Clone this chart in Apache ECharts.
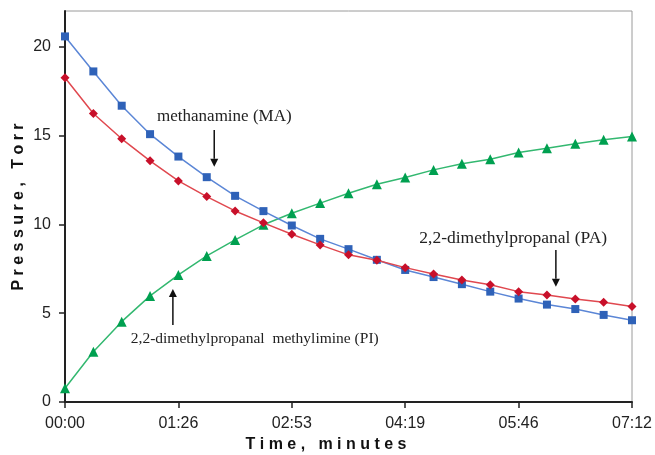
<!DOCTYPE html>
<html>
<head>
<meta charset="utf-8">
<script src="https://cdn.jsdelivr.net/npm/echarts@6/dist/echarts.min.js"></script>
<style>html,body{margin:0;padding:0;background:#fff;}#c{width:655px;height:455px;}</style>
</head>
<body>
<div id="c"></div>
<script>
// time in seconds
const times = [0, 21.6, 43.2, 64.8, 86.4, 108, 129.6, 151.2, 172.8, 194.4, 216, 237.6, 259.2, 280.8, 302.4, 324, 345.6, 367.2, 388.8, 410.4, 432];
const maValues = [20.57, 18.6, 16.67, 15.07, 13.81, 12.65, 11.6, 10.74, 9.93, 9.18, 8.6, 8.0, 7.43, 7.03, 6.63, 6.21, 5.82, 5.48, 5.23, 4.9, 4.6];
const paValues = [18.24, 16.23, 14.81, 13.57, 12.44, 11.56, 10.75, 10.08, 9.44, 8.84, 8.28, 7.98, 7.56, 7.2, 6.87, 6.6, 6.21, 6.02, 5.79, 5.61, 5.38];
const piValues = [0.77, 2.83, 4.52, 5.97, 7.15, 8.22, 9.12, 9.97, 10.62, 11.19, 11.75, 12.25, 12.63, 13.06, 13.4, 13.66, 14.04, 14.28, 14.53, 14.75, 14.94];
const xTickValues = [0, 86.4, 172.8, 259.2, 345.6, 432];
const xTickLabels = ['00:00', '01:26', '02:53', '04:19', '05:46', '07:12'];
const yTickValues = [0, 5, 10, 15, 20];

const chart = echarts.init(document.getElementById('c'), null, {renderer: 'canvas'});
const pair = vals => times.map((t, i) => [t, vals[i]]);
const lblFont = {fontFamily: 'Liberation Sans, Arial, sans-serif', fontSize: 16, color: '#222'};

chart.setOption({
  animation: false,
  backgroundColor: '#fff',
  grid: {left: 65, right: 23, top: 11, bottom: 53, containLabel: false, outerBoundsMode: 'none',
         show: true, borderColor: '#9a9a9a', borderWidth: 1, backgroundColor: 'transparent'},
  xAxis: {
    type: 'value', min: 0, max: 432,
    axisLine: {show: true, onZero: false, lineStyle: {color: '#222', width: 2}},
    axisTick: {show: true, inside: false, length: 6, lineStyle: {color: '#222', width: 1.5}, customValues: xTickValues},
    axisLabel: Object.assign({margin: 14, customValues: xTickValues,
      formatter: v => { const i = xTickValues.findIndex(t => Math.abs(t - v) < 0.01); return i >= 0 ? xTickLabels[i] : ''; }}, lblFont),
    splitLine: {show: false}
  },
  yAxis: {
    type: 'value', min: 0, max: 22,
    axisLine: {show: true, onZero: false, lineStyle: {color: '#222', width: 2}},
    axisTick: {show: true, inside: false, length: 6, lineStyle: {color: '#222', width: 1.5}, customValues: yTickValues},
    axisLabel: Object.assign({margin: 14, customValues: yTickValues}, lblFont),
    splitLine: {show: false}
  },
  series: [
    {name: 'MA', type: 'line', data: pair(maValues), symbol: 'rect', symbolSize: 8,
     lineStyle: {color: '#5b86d6', width: 1.5}, itemStyle: {color: '#2f62b8'}, z: 3},
    {name: 'PA', type: 'line', data: pair(paValues), symbol: 'diamond', symbolSize: 9,
     lineStyle: {color: '#e0484f', width: 1.5}, itemStyle: {color: '#c8102a'}, z: 4},
    {name: 'PI', type: 'line', data: pair(piValues), symbol: 'triangle', symbolSize: 10,
     lineStyle: {color: '#33b870', width: 1.5}, itemStyle: {color: '#00a050'}, z: 2}
  ]
});

// annotations in data coordinates
const notes = [
  {text: 'methanamine (MA)', size: 17, at: [121.4, 16.05], align: 'center', arrow: [[113.7, 15.3], [113.7, 13.24]]},
  {text: '2,2-dimethylpropanal (PA)', size: 17.5, at: [341.5, 9.21], align: 'center', arrow: [[374, 8.55], [374, 6.49]]},
  {text: '2,2-dimethylpropanal  methylimine (PI)', size: 15.5, at: [50.1, 3.55], align: 'left', arrow: [[82.2, 4.33], [82.2, 6.36]]}
];
const px = p => chart.convertToPixel({gridIndex: 0}, p);
const graphics = [];
notes.forEach(n => {
  const p = px(n.at);
  graphics.push({type: 'text', x: p[0], y: p[1], z: 10,
    style: {text: n.text, font: n.size + 'px "Liberation Serif", "Times New Roman", serif', fill: '#222', align: n.align, verticalAlign: 'middle'}});
  const a = px(n.arrow[0]), b = px(n.arrow[1]);
  const dir = b[1] > a[1] ? 1 : -1;
  const hl = 8, hw = 4;
  graphics.push({type: 'line', z: 10, shape: {x1: a[0], y1: a[1], x2: b[0], y2: b[1] - dir * hl}, style: {stroke: '#111', lineWidth: 1.5}});
  graphics.push({type: 'polygon', z: 10, shape: {points: [[b[0], b[1]], [b[0] - hw, b[1] - dir * hl], [b[0] + hw, b[1] - dir * hl]]}, style: {fill: '#111'}});
});
graphics.push({type: 'text', x: 326, y: 445, z: 10,
  style: {text: 'T i m e ,   m i n u t e s', font: 'bold 16px "Liberation Sans", Arial, sans-serif', fill: '#111', align: 'center', verticalAlign: 'middle'}});
graphics.push({type: 'text', x: 19, y: 207, rotation: Math.PI / 2, z: 10,
  style: {text: 'P r e s s u r e ,   T o r r', font: 'bold 16px "Liberation Sans", Arial, sans-serif', fill: '#111', align: 'center', verticalAlign: 'middle'}});
chart.setOption({graphic: graphics});
</script>
</body>
</html>
